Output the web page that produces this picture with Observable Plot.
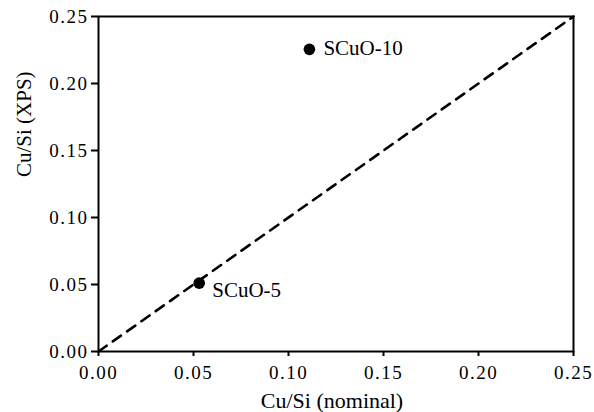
<!DOCTYPE html>
<html><head><meta charset="utf-8">
<script src="https://cdn.jsdelivr.net/npm/d3@7"></script>
<script src="https://cdn.jsdelivr.net/npm/@observablehq/plot@0.6"></script>
<style>
body{margin:0;background:#fff;}
svg text, svg g{font-family:"Liberation Serif","Times New Roman",serif;}
g[aria-label$="tick label"]{letter-spacing:1.5px;}
</style></head><body><div id="chart"></div>
<script>
const sampleNames = ["SCuO-5", "SCuO-10"];
const nominalCuSi = [0.053, 0.111];
const xpsCuSi = [0.051, 0.2255];
const parityX = [0, 0.25];
const parityY = [0, 0.25];
const tickValues = [0, 0.05, 0.10, 0.15, 0.20, 0.25];
const xTitle = "Cu/Si (nominal)";
const yTitle = "Cu/Si (XPS)";

const samples = sampleNames.map((name, i) => ({name, x: nominalCuSi[i], y: xpsCuSi[i]}));
const parity = parityX.map((x, i) => ({x, y: parityY[i]}));

const chart = Plot.plot({
  width: 594,
  height: 412,
  marginLeft: 98,
  marginRight: 21,
  marginTop: 16,
  marginBottom: 61,
  x: {domain: [0, 0.25]},
  y: {domain: [0, 0.25]},
  marks: [
    Plot.line(parity, {x: "x", y: "y", stroke: "black", strokeWidth: 2.6, strokeDasharray: "10,7.5"}),
    Plot.frame({stroke: "black", strokeWidth: 2}),
    Plot.axisX({ticks: tickValues, tickFormat: d3.format(".2f"), tickSize: 5, tickPadding: 9, fontSize: 19, label: null, stroke: "black", strokeWidth: 2}),
    Plot.axisY({ticks: tickValues, tickFormat: d3.format(".2f"), tickSize: 7, tickPadding: 3, fontSize: 19, label: null, stroke: "black", strokeWidth: 2}),
    Plot.dot(samples, {x: "x", y: "y", r: 5.8, fill: "black", stroke: "none"}),
    Plot.text(samples.filter(d => d.name === "SCuO-10"), {x: "x", y: "y", text: "name", textAnchor: "start", dx: 14, dy: -1, fontSize: 21, fill: "black"}),
    Plot.text(samples.filter(d => d.name === "SCuO-5"), {x: "x", y: "y", text: "name", textAnchor: "start", dx: 13, dy: 7, fontSize: 21, fill: "black"}),
    Plot.text([xTitle], {frameAnchor: "bottom", dy: 56, dx: -4, lineAnchor: "bottom", fontSize: 22, fill: "black"}),
    Plot.text([yTitle], {frameAnchor: "left", dx: -68, dy: -7, rotate: -90, lineAnchor: "bottom", fontSize: 21, fill: "black"})
  ]
});
document.getElementById("chart").appendChild(chart);
</script></body></html>
